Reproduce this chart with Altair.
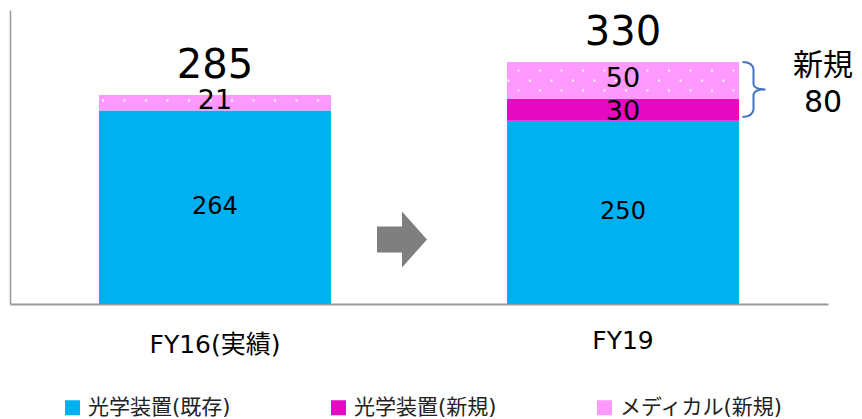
import altair as alt
import pandas as pd

# ---- data ----
categories = ["FY16(実績)", "FY19"]
series = ["光学装置(既存)", "光学装置(新規)", "メディカル(新規)"]
existing = [264, 250]
optical_new = [0, 30]
medical_new = [21, 50]
colors = ["#00B0F0", "#E60AC3", "#FF99FF"]

FONT = "DejaVu Sans, Noto Sans CJK JP"

rows = []
totals = []
for i, c in enumerate(categories):
    base = 0
    for j, (s, vals) in enumerate(zip(series, [existing, optical_new, medical_new])):
        v = vals[i]
        rows.append(dict(category=c, series=s, order=j, value=v,
                         y0=base, y1=base + v, mid=base + v / 2))
        base += v
    totals.append(dict(category=c, total=base))
df = pd.DataFrame(rows)
tot = pd.DataFrame(totals)
new_start = existing[1]
new_total = optical_new[1] + medical_new[1]
brace = pd.DataFrame([dict(category=categories[1], lo=new_start,
                           hi=new_start + new_total,
                           mid=new_start + new_total / 2, label=new_total)])

xscale = alt.Scale(domain=categories, paddingInner=0.4314, paddingOuter=0.2181)
yscale = alt.Scale(domain=[0, 401], nice=False, zero=True)

xaxis = alt.Axis(labels=False, ticks=False, title=None, grid=False,
                 domainColor="#999999", domainWidth=2)
yaxis = alt.Axis(labels=False, ticks=False, title=None, grid=False,
                 domainColor="#999999", domainWidth=1.5)


def X():
    return alt.X("category:N", sort=categories, scale=xscale, axis=xaxis, title=None)


def Y(field):
    return alt.Y(field, scale=yscale, axis=yaxis, title=None)


bars = alt.Chart(df).mark_bar(strokeWidth=0).encode(
    x=X(),
    y=Y("y1:Q"),
    y2="y0:Q",
    color=alt.Color("series:N", sort=series,
                    scale=alt.Scale(domain=series, range=colors),
                    legend=alt.Legend(orient="none", legendX=52, legendY=387,
                                      direction="horizontal", title=None,
                                      symbolType="square", symbolSize=225,
                                      symbolStrokeWidth=0, symbolOpacity=1,
                                      labelFontSize=21, labelFont=FONT,
                                      labelColor="#222222", labelLimit=400,
                                      labelOffset=5, columnPadding=97,
                                      padding=0)),
    order="order:Q",
)


def dot_path(rowspec, spacing=21.5, scale=100.0):
    parts = []
    for yoff, xstart, count in rowspec:
        for k in range(count):
            x = (xstart + spacing * k - 1) / scale
            y = (yoff - 1) / scale
            parts.append(f"M{x:.4f} {y:.4f}h0.02v0.02h-0.02Z")
    return "".join(parts)


med = df[df.series == series[2]]
dots16 = alt.Chart(med[med.category == categories[0]]).mark_point(
    shape=dot_path([(-2.3, -112, 11)]), size=40000, filled=True,
    fill="white", strokeWidth=0, opacity=1).encode(x=X(), y=Y("mid:Q"))
dots19 = alt.Chart(med[med.category == categories[1]]).mark_point(
    shape=dot_path([(-10, -104.5, 11), (0, -114.5, 11), (10, -104.5, 11)]),
    size=40000, filled=True, fill="white", strokeWidth=0, opacity=1).encode(
    x=X(), y=Y("mid:Q"))

seg = df[df.value > 0]
lab_exist = alt.Chart(seg[seg.order == 0]).mark_text(
    font=FONT, fontSize=24, color="black", baseline="middle").encode(
    x=X(), y=Y("mid:Q"), text="value:Q")
lab_opt = alt.Chart(seg[seg.order == 1]).mark_text(
    font=FONT, fontSize=27, color="black", baseline="middle", dy=2).encode(
    x=X(), y=Y("mid:Q"), text="value:Q")
lab_med = alt.Chart(seg[seg.order == 2]).mark_text(
    font=FONT, fontSize=27, color="black", baseline="middle", dy=-1.5).encode(
    x=X(), y=Y("mid:Q"), text="value:Q")

lab_tot = alt.Chart(tot).mark_text(
    font=FONT, fontSize=40, color="black", baseline="alphabetic", dy=-17).encode(
    x=X(), y=Y("total:Q"), text="total:Q")

brace_shape = ("M-0.3667 -0.9167Q-0.0333 -0.9167 0 -0.6667L0 -0.1667"
               "Q0.0333 0 0.4 0Q0.0333 0 0 0.1667L0 0.6667"
               "Q-0.0333 0.9167 -0.3667 0.9167")
brace_mark = alt.Chart(brace).mark_point(
    shape=brace_shape, size=3600, filled=False, stroke="#4472C4",
    strokeWidth=2, opacity=1, xOffset=130.5, yOffset=-2).encode(
    x=X(), y=Y("mid:Q"))

new_word = alt.Chart(brace).mark_text(
    font=FONT, fontSize=30, color="black", baseline="middle", dx=200, dy=-25).encode(
    x=X(), y=Y("mid:Q"), text=alt.value("新規"))
new_val = alt.Chart(brace).mark_text(
    font=FONT, fontSize=30, color="black", baseline="middle", dx=200, dy=12).encode(
    x=X(), y=Y("mid:Q"), text="label:Q")

arrow_shape = ("M-0.8333 -0.4333L0 -0.4333L0 -0.9333L0.8333 0L0 0.9333"
               "L0 0.4333L-0.8333 0.4333Z")
arrow = alt.Chart(alt.Data(values=[{"a": 1}])).mark_point(
    shape=arrow_shape, size=3600, filled=True, fill="#7F7F7F",
    strokeWidth=0, opacity=1).encode(x=alt.value(392), y=alt.value(229.5))

cat_df = pd.DataFrame({"category": categories})
cat16 = alt.Chart(cat_df[cat_df.category == categories[0]]).mark_text(
    font=FONT, fontSize=25, color="black", baseline="alphabetic").encode(
    x=X(), y=alt.value(343), text="category:N")
cat19 = alt.Chart(cat_df[cat_df.category == categories[1]]).mark_text(
    font=FONT, fontSize=25, color="black", baseline="alphabetic").encode(
    x=X(), y=alt.value(339), text="category:N")

chart = alt.layer(
    bars, dots16, dots19, lab_exist, lab_opt, lab_med, lab_tot, brace_mark,
    new_word, new_val, arrow, cat16, cat19
).properties(
    width=818, height=294,
    padding={"left": 2, "top": 2, "right": 26, "bottom": 115},
    autosize=alt.AutoSizeParams(type="none"),
).configure_view(stroke=None)

chart.save("out.html", embed_options={"renderer": "svg", "actions": False})
